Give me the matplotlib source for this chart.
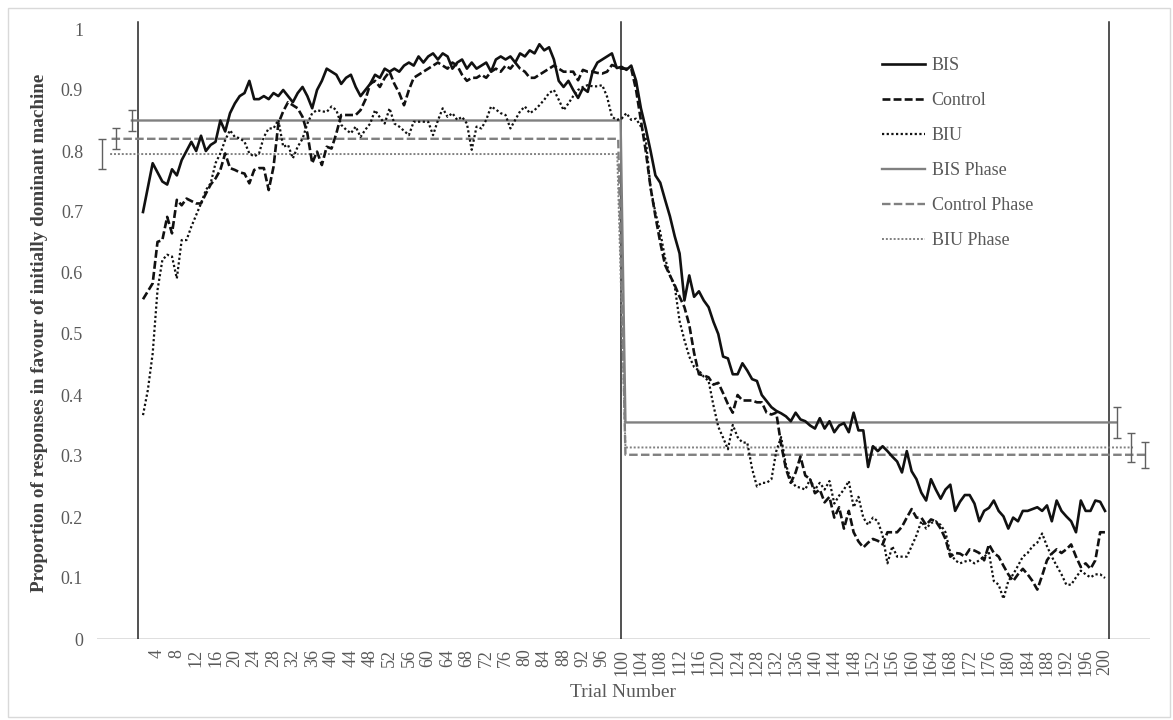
import numpy as np
import matplotlib.pyplot as plt
from matplotlib.patches import Rectangle
from matplotlib.ticker import FuncFormatter

plt.rcParams['font.family'] = ['Liberation Serif', 'DejaVu Serif']

trials = np.arange(1, 201)

bis = [
    0.700, 0.740, 0.780, 0.765, 0.750, 0.745, 0.770, 0.760, 0.785, 0.800,
    0.815, 0.800, 0.825, 0.800, 0.810, 0.815, 0.850, 0.832, 0.862, 0.878,
    0.890, 0.895, 0.915, 0.885, 0.885, 0.890, 0.885, 0.895, 0.890, 0.900,
    0.890, 0.880, 0.895, 0.905, 0.890, 0.870, 0.900, 0.915, 0.935, 0.930,
    0.925, 0.910, 0.920, 0.925, 0.905, 0.890, 0.900, 0.910, 0.925, 0.920,
    0.935, 0.930, 0.935, 0.930, 0.940, 0.945, 0.940, 0.955, 0.945, 0.955,
    0.960, 0.950, 0.960, 0.955, 0.935, 0.945, 0.950, 0.935, 0.945, 0.935,
    0.940, 0.945, 0.930, 0.950, 0.955, 0.950, 0.955, 0.945, 0.960, 0.955,
    0.965, 0.960, 0.975, 0.965, 0.970, 0.950, 0.915, 0.905, 0.915, 0.900,
    0.887, 0.903, 0.897, 0.930, 0.945, 0.950, 0.955, 0.960, 0.936, 0.938,
    0.933, 0.940, 0.915, 0.870, 0.837, 0.800, 0.760, 0.748, 0.720, 0.693,
    0.660, 0.632, 0.555, 0.596, 0.561, 0.570, 0.555, 0.544, 0.520, 0.500,
    0.463, 0.460, 0.434, 0.434, 0.452, 0.440, 0.426, 0.423, 0.400, 0.390,
    0.380, 0.374, 0.370, 0.365, 0.357, 0.371, 0.360, 0.357, 0.350, 0.345,
    0.362, 0.345, 0.357, 0.339, 0.350, 0.354, 0.339, 0.371, 0.342, 0.342,
    0.282, 0.316, 0.308, 0.316, 0.308, 0.299, 0.291, 0.273, 0.308, 0.275,
    0.262, 0.240, 0.227, 0.262, 0.245, 0.230, 0.245, 0.253, 0.210, 0.225,
    0.236, 0.236, 0.222, 0.193, 0.210, 0.215, 0.227, 0.210, 0.201, 0.181,
    0.199, 0.193, 0.210, 0.210, 0.213, 0.216, 0.210, 0.219, 0.193, 0.227,
    0.210, 0.201, 0.193, 0.175, 0.227, 0.210, 0.210, 0.227, 0.225, 0.210,
]

control = [
    0.557, 0.570, 0.583, 0.651, 0.654, 0.692, 0.665, 0.720, 0.711, 0.722,
    0.718, 0.714, 0.714, 0.730, 0.745, 0.755, 0.769, 0.796, 0.772, 0.769,
    0.765, 0.763, 0.747, 0.769, 0.772, 0.772, 0.736, 0.774, 0.845, 0.865,
    0.880, 0.875, 0.870, 0.856, 0.829, 0.780, 0.799, 0.777, 0.807, 0.804,
    0.829, 0.859, 0.859, 0.859, 0.859, 0.867, 0.884, 0.910, 0.915, 0.905,
    0.920, 0.930, 0.910, 0.895, 0.875, 0.900, 0.920, 0.925, 0.930, 0.935,
    0.940, 0.945, 0.940, 0.935, 0.945, 0.940, 0.925, 0.915, 0.920, 0.920,
    0.925, 0.920, 0.930, 0.935, 0.930, 0.940, 0.935, 0.945, 0.935, 0.930,
    0.920, 0.920, 0.925, 0.930, 0.935, 0.940, 0.935, 0.930, 0.930, 0.930,
    0.916, 0.933, 0.930, 0.930, 0.928, 0.927, 0.930, 0.941, 0.938, 0.935,
    0.935, 0.935, 0.900, 0.850, 0.800, 0.740, 0.693, 0.650, 0.613, 0.596,
    0.580, 0.561, 0.544, 0.515, 0.469, 0.434, 0.432, 0.429, 0.417, 0.420,
    0.403, 0.385, 0.371, 0.400, 0.391, 0.391, 0.391, 0.388, 0.388, 0.371,
    0.368, 0.371, 0.319, 0.279, 0.256, 0.273, 0.299, 0.268, 0.262, 0.239,
    0.245, 0.224, 0.233, 0.199, 0.216, 0.181, 0.210, 0.175, 0.160, 0.150,
    0.158, 0.164, 0.161, 0.155, 0.175, 0.175, 0.175, 0.184, 0.199, 0.213,
    0.199, 0.199, 0.187, 0.196, 0.193, 0.181, 0.164, 0.135, 0.141, 0.140,
    0.135, 0.147, 0.145, 0.141, 0.129, 0.155, 0.141, 0.135, 0.120, 0.106,
    0.095, 0.106, 0.115, 0.106, 0.095, 0.081, 0.104, 0.129, 0.140, 0.147,
    0.141, 0.147, 0.155, 0.135, 0.118, 0.124, 0.115, 0.129, 0.175, 0.175,
]

biu = [
    0.367, 0.408, 0.468, 0.572, 0.621, 0.630, 0.627, 0.591, 0.654, 0.654,
    0.676, 0.695, 0.714, 0.736, 0.747, 0.780, 0.796, 0.818, 0.834, 0.823,
    0.821, 0.815, 0.796, 0.791, 0.796, 0.823, 0.837, 0.837, 0.851, 0.807,
    0.810, 0.788, 0.807, 0.820, 0.845, 0.862, 0.867, 0.865, 0.864, 0.873,
    0.867, 0.843, 0.835, 0.829, 0.840, 0.823, 0.835, 0.845, 0.867, 0.855,
    0.845, 0.870, 0.845, 0.840, 0.833, 0.826, 0.848, 0.848, 0.848, 0.848,
    0.826, 0.850, 0.870, 0.856, 0.862, 0.851, 0.856, 0.845, 0.802, 0.840,
    0.837, 0.851, 0.873, 0.868, 0.862, 0.859, 0.837, 0.851, 0.865, 0.873,
    0.862, 0.867, 0.875, 0.884, 0.895, 0.900, 0.884, 0.867, 0.878, 0.890,
    0.900, 0.905, 0.908, 0.906, 0.906, 0.908, 0.889, 0.856, 0.851, 0.853,
    0.862, 0.851, 0.853, 0.840, 0.820, 0.739, 0.699, 0.667, 0.624, 0.596,
    0.578, 0.521, 0.490, 0.463, 0.446, 0.440, 0.430, 0.423, 0.383, 0.348,
    0.330, 0.311, 0.351, 0.331, 0.322, 0.322, 0.279, 0.250, 0.256, 0.256,
    0.262, 0.308, 0.331, 0.285, 0.262, 0.250, 0.248, 0.245, 0.262, 0.245,
    0.256, 0.245, 0.259, 0.222, 0.235, 0.245, 0.259, 0.216, 0.233, 0.199,
    0.187, 0.199, 0.193, 0.170, 0.124, 0.152, 0.135, 0.135, 0.135, 0.152,
    0.170, 0.193, 0.181, 0.190, 0.193, 0.187, 0.175, 0.141, 0.129, 0.124,
    0.127, 0.129, 0.124, 0.129, 0.135, 0.141, 0.095, 0.089, 0.066, 0.095,
    0.106, 0.120, 0.135, 0.141, 0.152, 0.158, 0.173, 0.152, 0.135, 0.120,
    0.106, 0.089, 0.089, 0.101, 0.112, 0.106, 0.101, 0.106, 0.106, 0.100,
]

# phase means with error margins (first half, second half)
phase_labels = ['BIS Phase', 'Control Phase', 'BIU Phase']
phase1_mean = [0.850, 0.820, 0.795]
phase1_err = [0.017, 0.017, 0.024]
phase2_mean = [0.355, 0.302, 0.314]
phase2_err = [0.025, 0.021, 0.024]

BLACK = '#111111'
GREY = '#808080'
TEXT = '#595959'

fig = plt.figure(figsize=(11.73, 7.2), dpi=100)
fig.patches.append(Rectangle((8 / 1173, 3 / 720), 1162 / 1173, 709 / 720,
                             transform=fig.transFigure, fill=False,
                             edgecolor='#d9d9d9', linewidth=1))
ax = fig.add_axes([97 / 1173, 81 / 720, 1053 / 1173, 622.2 / 720])

# section dividers
for xv in (-0.1, 99.9, 200.8):
    ax.plot([xv, xv], [0, 1.011], color='#222222', lw=1.1, zorder=2)

ax.plot(trials, bis, color=BLACK, lw=1.9, label='BIS', zorder=4)
ax.plot(trials, control, color=BLACK, lw=1.9, dashes=(3, 1.2),
        label='Control', zorder=4)
ax.plot(trials, biu, color=BLACK, lw=1.6, dashes=(1, 1.1),
        label='BIU', zorder=4)

# phase averages: left start, left end, right start, right end, error bar x
phase_x = [(-1.3, 99.8, 100.8, 202.4, -1.3, 202.4),
           (-5.5, 99.3, 100.8, 208.3, -4.6, 208.3),
           (-5.8, 99.1, 100.8, 205.8, -7.4, 205.4)]
phase_styles = [dict(linestyle='-', lw=1.7),
                dict(dashes=(3.6, 1.4), lw=1.7),
                dict(dashes=(1, 1), lw=1.4)]
for i in range(3):
    x0, x1, x2, x3, e1, e2 = phase_x[i]
    ax.plot([x0, x1, x2, x3],
            [phase1_mean[i], phase1_mean[i], phase2_mean[i], phase2_mean[i]],
            color=GREY, label=phase_labels[i], zorder=3, **phase_styles[i])
    ax.errorbar([e1, e2], [phase1_mean[i], phase2_mean[i]],
                yerr=[phase1_err[i], phase2_err[i]], fmt='none',
                ecolor='#606060', elinewidth=1.0, capsize=3.2, capthick=1.0,
                zorder=3)

ax.axhline(0, color='#d9d9d9', lw=1.2, zorder=1)

ax.set_xlim(-8.516, 209.31)
ax.set_ylim(0, 1.02)
for s in ax.spines.values():
    s.set_visible(False)

ax.set_xticks(np.arange(4, 201, 4))
ax.set_xticklabels([str(v) for v in range(4, 201, 4)], rotation=90,
                   fontsize=13, color=TEXT)
ax.set_yticks(np.arange(0, 1.01, 0.1))
ax.yaxis.set_major_formatter(FuncFormatter(lambda v, p: f'{v:.1f}'.rstrip('0').rstrip('.') if v else '0'))
ax.tick_params(axis='y', length=0, pad=10, labelsize=13, labelcolor=TEXT)
ax.tick_params(axis='x', length=0, pad=7)

ax.set_xlabel('Trial Number', fontsize=14, color=TEXT, labelpad=6)
fig.text(40 / 1173, 1 - 333 / 720,
         'Proportion of responses in favour of initially dominant machine',
         rotation=90, ha='center', va='center', fontsize=13.8,
         fontweight='bold', color='#404040')

ax.legend(loc='upper left', bbox_to_anchor=(882 / 1173, 1 - 57 / 720),
          bbox_transform=fig.transFigure, frameon=False, fontsize=13,
          handlelength=2.4, handletextpad=0.35, labelspacing=1.0,
          borderpad=0, borderaxespad=0, labelcolor=TEXT)

fig.savefig('out.png', dpi=100)
